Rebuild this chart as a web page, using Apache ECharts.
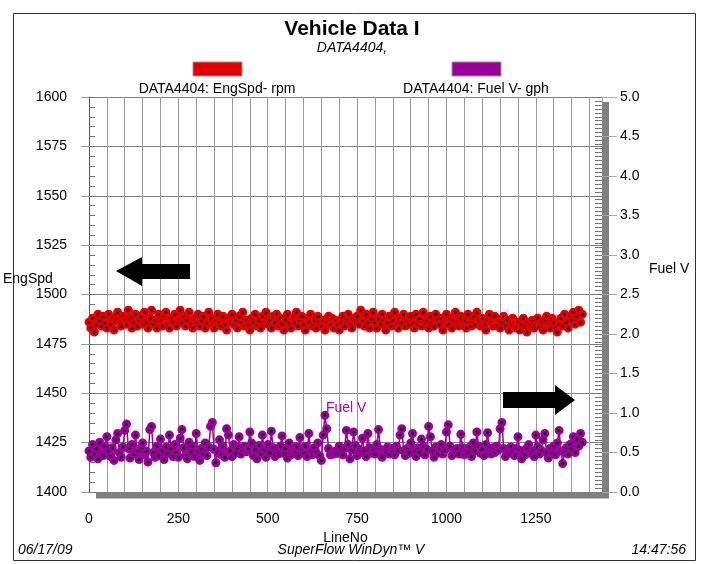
<!DOCTYPE html>
<html>
<head>
<meta charset="utf-8">
<script src="https://cdn.jsdelivr.net/npm/echarts@6/dist/echarts.min.js"></script>
<style>
html,body{margin:0;padding:0;background:#fff;}
#c{width:704px;height:564px;}
</style>
</head>
<body>
<div id="c"></div>
<script>
// ---- data (LineNo sampled every 5 lines) ----
const lineStep = 5;
const engSpd = [
1486,1483,1488,1481,1485,1490,1487,1484,1489,1486,
1483,1490,1485,1488,1482,1487,1491,1486,1484,1489,
1487,1485,1492,1488,1483,1486,1490,1484,1487,1489,
1485,1491,1486,1483,1488,1492,1485,1487,1483,1490,
1486,1484,1489,1491,1485,1483,1488,1486,1490,1484,
1487,1492,1486,1489,1484,1487,1491,1485,1483,1488,
1486,1490,1484,1487,1489,1483,1486,1491,1488,1485,
1483,1487,1490,1486,1484,1489,1485,1482,1488,1486,
1490,1485,1487,1483,1489,1486,1491,1484,1487,1485,
1482,1488,1486,1490,1484,1487,1483,1489,1486,1491,
1485,1487,1483,1489,1486,1490,1484,1488,1485,1482,
1487,1490,1485,1483,1488,1486,1491,1484,1487,1489,
1485,1482,1488,1486,1490,1484,1487,1483,1489,1486,
1484,1487,1482,1486,1489,1485,1488,1483,1487,1485,
1482,1486,1489,1484,1487,1490,1485,1483,1488,1486,
1489,1485,1492,1487,1484,1490,1486,1483,1488,1491,
1486,1483,1488,1485,1490,1487,1482,1486,1489,1484,
1487,1491,1485,1483,1488,1486,1490,1484,1487,1485,
1489,1486,1483,1490,1485,1488,1484,1491,1486,1487,
1483,1489,1486,1484,1490,1487,1485,1488,1482,1486,
1490,1485,1488,1483,1487,1491,1486,1484,1489,1485,
1487,1483,1490,1486,1484,1489,1485,1491,1487,1484,
1488,1485,1482,1487,1490,1486,1484,1489,1485,1487,
1483,1486,1489,1484,1487,1482,1485,1488,1486,1483,
1486,1482,1485,1488,1483,1481,1486,1484,1487,1483,
1485,1488,1484,1486,1482,1487,1489,1485,1483,1488,
1486,1483,1481,1485,1488,1484,1490,1486,1483,1489,
1487,1491,1485,1489,1492,1486,1490
];
const fuelV = [
0.52,0.44,0.60,0.48,0.55,0.42,0.63,0.50,0.46,0.58,
0.70,0.52,0.45,0.56,0.40,0.66,0.74,0.50,0.44,0.57,
0.78,0.86,0.55,0.43,0.60,0.48,0.72,0.53,0.41,0.56,
0.62,0.47,0.52,0.38,0.79,0.83,0.50,0.44,0.58,0.46,
0.67,0.53,0.41,0.57,0.49,0.72,0.55,0.45,0.60,0.50,
0.44,0.68,0.79,0.56,0.47,0.42,0.63,0.51,0.58,0.45,
0.74,0.52,0.40,0.55,0.48,0.62,0.46,0.57,0.83,0.88,
0.54,0.37,0.50,0.66,0.47,0.58,0.44,0.80,0.72,0.52,
0.45,0.60,0.49,0.56,0.70,0.48,0.53,0.58,0.51,0.55,
0.76,0.62,0.46,0.54,0.42,0.59,0.48,0.72,0.53,0.44,
0.60,0.50,0.77,0.56,0.45,0.52,0.48,0.58,0.71,0.49,
0.55,0.43,0.62,0.47,0.53,0.50,0.57,0.46,0.69,0.54,
0.49,0.58,0.45,0.74,0.52,0.47,0.56,0.50,0.62,0.46,
0.40,0.72,0.97,0.80,0.55,0.47,0.50,0.48,0.52,0.49,
0.58,0.51,0.47,0.55,0.78,0.60,0.42,0.53,0.76,0.59,
0.46,0.54,0.50,0.68,0.52,0.45,0.74,0.56,0.49,0.53,
0.48,0.60,0.79,0.54,0.44,0.52,0.50,0.57,0.48,0.55,
0.51,0.47,0.58,0.53,0.72,0.80,0.52,0.46,0.55,0.49,
0.62,0.74,0.53,0.45,0.56,0.50,0.67,0.58,0.47,0.54,
0.83,0.70,0.52,0.44,0.57,0.49,0.55,0.60,0.48,0.53,
0.76,0.85,0.58,0.46,0.52,0.50,0.55,0.48,0.73,0.56,
0.47,0.53,0.50,0.57,0.45,0.62,0.52,0.76,0.58,0.49,
0.54,0.46,0.60,0.75,0.51,0.48,0.56,0.50,0.58,0.53,
0.80,0.88,0.55,0.45,0.52,0.49,0.57,0.51,0.46,0.55,
0.70,0.53,0.42,0.50,0.47,0.56,0.60,0.49,0.52,0.45,
0.72,0.57,0.48,0.53,0.66,0.74,0.50,0.43,0.55,0.49,
0.58,0.47,0.62,0.78,0.52,0.36,0.50,0.56,0.48,0.60,
0.54,0.70,0.50,0.66,0.58,0.74,0.63
];
const xTicks = [0, 250, 500, 750, 1000, 1250];
const leftTicks = [1400, 1425, 1450, 1475, 1500, 1525, 1550, 1575, 1600];
const rightTicks = [0.0, 0.5, 1.0, 1.5, 2.0, 2.5, 3.0, 3.5, 4.0, 4.5, 5.0];
const titleText = 'Vehicle Data I';
const subText = 'DATA4404,';
const seriesNames = ['DATA4404: EngSpd- rpm', 'DATA4404: Fuel V- gph'];

const FONT = "'Liberation Sans', Arial, sans-serif";
const RED = '#e00000';
const PURPLE = '#990099';

const engData = engSpd.map((v, i) => [i * lineStep, v]);
const fuelData = fuelV.map((v, i) => [i * lineStep, v]);

const chart = echarts.init(document.getElementById('c'), null, {renderer: 'canvas'});
chart.setOption({
  animation: false,
  backgroundColor: '#fff',
  title: {
    text: titleText, subtext: subText, left: 'center', top: 14, itemGap: 1,
    textStyle: {fontFamily: FONT, fontWeight: 'bold', fontSize: 21, color: '#000'},
    subtextStyle: {fontFamily: FONT, fontStyle: 'italic', fontSize: 14, color: '#000'}
  },
  grid: {left: 89, right: 102, top: 97, bottom: 72},
  xAxis: {
    type: 'value', min: 0, max: 1435, interval: 50,
    name: 'LineNo', nameLocation: 'middle', nameGap: 34,
    nameTextStyle: {fontFamily: FONT, fontSize: 14, color: '#000'},
    axisLine: {show: false}, axisTick: {show: false},
    axisLabel: {fontFamily: FONT, fontSize: 14, color: '#000', margin: 20,
      formatter: v => xTicks.indexOf(v) >= 0 ? String(v) : ''},
    splitLine: {show: true, lineStyle: {color: '#9a9a9a', width: 1}}
  },
  yAxis: [
    {
      type: 'value', position: 'left', min: 1400, max: 1600, interval: 25,
      axisLine: {show: true, lineStyle: {color: '#555', width: 1}},
      axisTick: {show: true, length: 8, lineStyle: {color: '#999'}},
      axisLabel: {fontFamily: FONT, fontSize: 14, color: '#000', margin: 22,
        formatter: v => leftTicks.indexOf(v) >= 0 ? String(v) : ''},
      splitLine: {show: true, lineStyle: {color: '#808080', width: 1}}
    },
    {
      type: 'value', position: 'right', min: 0, max: 5, interval: 0.5, z: 5,
      axisLine: {show: false},
      axisTick: {show: true, length: 15, lineStyle: {color: '#a8a8a8'}},
      axisLabel: {fontFamily: FONT, fontSize: 14, color: '#000', margin: 18,
        formatter: v => rightTicks.indexOf(v) >= 0 ? v.toFixed(1) : ''},
      splitLine: {show: false}
    },
    {
      type: 'value', position: 'left', min: 1400, max: 1600, interval: 25,
      axisLine: {show: false}, axisLabel: {show: false}, splitLine: {show: false},
      axisTick: {show: true, inside: true, length: 6, lineStyle: {color: '#777'}},
      minorTick: {show: true, splitNumber: 5, length: 6, lineStyle: {color: '#777'}}
    },
    {
      type: 'value', position: 'right', min: 0, max: 5, interval: 0.5,
      axisLine: {show: false}, axisLabel: {show: false}, splitLine: {show: false},
      axisTick: {show: true, inside: true, length: 7, lineStyle: {color: '#777'}},
      minorTick: {show: true, splitNumber: 10, length: 7, lineStyle: {color: '#777'}}
    }
  ],
  series: [
    {
      name: seriesNames[0], type: 'line', yAxisIndex: 0, data: engData,
      showSymbol: true, showAllSymbol: true, symbol: 'circle', symbolSize: 6,
      lineStyle: {color: RED, width: 1.5},
      itemStyle: {color: '#000', borderColor: RED, borderWidth: 3},
      z: 3
    },
    {
      name: seriesNames[1], type: 'line', yAxisIndex: 1, data: fuelData,
      showSymbol: true, showAllSymbol: true, symbol: 'circle', symbolSize: 6,
      lineStyle: {color: PURPLE, width: 1.5},
      itemStyle: {color: '#000', borderColor: PURPLE, borderWidth: 3},
      z: 3
    }
  ],
  graphic: [
    {type: 'rect', z: 0, shape: {x: 13.5, y: 13.5, width: 682, height: 547},
      style: {fill: 'none', stroke: '#333', lineWidth: 1}},
    {type: 'rect', z: 1, shape: {x: 96, y: 492.5, width: 513, height: 6}, style: {fill: '#808080'}},
    {type: 'rect', z: 1, shape: {x: 602, y: 102, width: 7, height: 396}, style: {fill: '#808080'}},
    {type: 'rect', z: 10, shape: {x: 193, y: 62, width: 49, height: 14}, style: {fill: RED, stroke: '#999', lineWidth: 1}},
    {type: 'rect', z: 10, shape: {x: 452, y: 62, width: 49, height: 14}, style: {fill: PURPLE, stroke: '#999', lineWidth: 1}},
    {type: 'text', z: 10, style: {text: seriesNames[0], x: 217, y: 89, align: 'center', verticalAlign: 'middle',
      font: '14px ' + FONT, fill: '#000'}},
    {type: 'text', z: 10, style: {text: seriesNames[1], x: 476, y: 89, align: 'center', verticalAlign: 'middle',
      font: '14px ' + FONT, fill: '#000'}},
    {type: 'text', z: 10, style: {text: 'EngSpd', x: 3, y: 279, align: 'left', verticalAlign: 'middle',
      font: '14px ' + FONT, fill: '#000'}},
    {type: 'text', z: 10, style: {text: 'Fuel V', x: 649, y: 269, align: 'left', verticalAlign: 'middle',
      font: '14px ' + FONT, fill: '#000'}},
    {type: 'text', z: 10, style: {text: 'Fuel V', x: 326, y: 408, align: 'left', verticalAlign: 'middle',
      font: '14px ' + FONT, fill: '#aa00aa'}},
    {type: 'polygon', z: 10, shape: {points: [[116, 271], [142, 257], [142, 264], [190, 264], [190, 279], [142, 279], [142, 286]]},
      style: {fill: '#000'}},
    {type: 'polygon', z: 10, shape: {points: [[575, 400], [555, 385], [555, 392], [503, 392], [503, 408], [555, 408], [555, 415]]},
      style: {fill: '#000'}},
    {type: 'text', z: 10, style: {text: '06/17/09', x: 18, y: 550, align: 'left', verticalAlign: 'middle',
      font: 'italic 14px ' + FONT, fill: '#000'}},
    {type: 'text', z: 10, style: {text: 'SuperFlow WinDyn\u2122 V', x: 351, y: 550, align: 'center', verticalAlign: 'middle',
      font: 'italic 14px ' + FONT, fill: '#000'}},
    {type: 'text', z: 10, style: {text: '14:47:56', x: 686, y: 550, align: 'right', verticalAlign: 'middle',
      font: 'italic 14px ' + FONT, fill: '#000'}}
  ]
});
</script>
</body>
</html>
